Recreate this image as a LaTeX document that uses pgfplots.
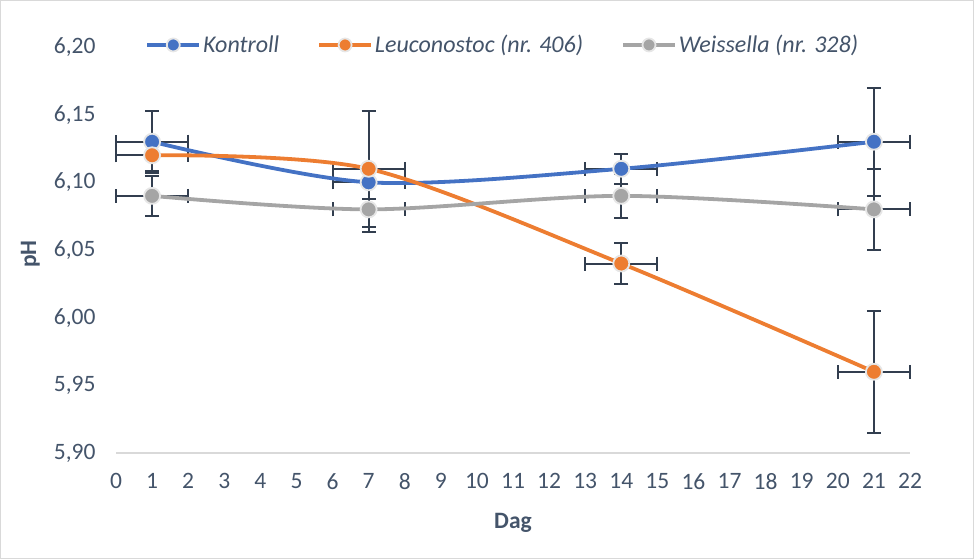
\documentclass[border=0pt]{standalone}
\usepackage{fontspec}
\setmainfont{Carlito}
\usepackage{pgfplots}
\usepackage{pgfplotstable}
\pgfplotsset{compat=1.18}
\definecolor{cblue}{HTML}{4472C4}
\definecolor{corange}{HTML}{ED7D31}
\definecolor{cgray}{HTML}{A5A5A5}
\definecolor{errc}{HTML}{323E4F}
\definecolor{mborder}{HTML}{E6E6E6}
\definecolor{txt}{HTML}{44546A}
\definecolor{axisgray}{HTML}{D9D9D9}
\pgfplotstableread{
x y ex ey
1 6.13 1 0.023
7 6.10 1 0.012
14 6.11 1 0.011
21 6.13 1 0.040
}\kontroll
\pgfplotstableread{
x y ex ey
1 6.12 1 0.012
7 6.11 1 0.043
14 6.04 1 0.015
21 5.96 1 0.045
}\leuco
\pgfplotstableread{
x y ex ey
1 6.09 1 0.015
7 6.08 1 0.017
14 6.09 1 0.016
21 6.08 1 0.030
}\weiss
\pgfplotsset{
  err/.style={draw=none, mark=none, forget plot,
    error bars/.cd, x dir=both, x explicit, y dir=both, y explicit,
    error bar style={draw=errc, line width=2bp},
    error mark options={draw=errc, rotate=90, mark size=7bp, line width=2bp}},
  ser/.style={#1, line width=3.8bp, smooth, mark=*, mark size=8bp,
    mark options={solid, fill=#1, draw=mborder, line width=1.8bp}},
}
\begin{document}
\begin{tikzpicture}[x=1bp,y=1bp]
\path[use as bounding box] (0,0) rectangle (974,559);
\draw[color=axisgray, line width=1bp] (0.5,0.5) rectangle (973.5,558.5);
\begin{axis}[
  at={(116bp,106bp)}, anchor=south west,
  scale only axis, width=794bp, height=406bp,
  xmin=0, xmax=22, ymin=5.9, ymax=6.2,
  xtick={0,1,...,22}, ytick={5.9,5.95,6,6.05,6.1,6.15,6.2},
  axis x line*=bottom, axis y line*=left,
  x axis line style={draw=axisgray, line width=1.3bp, -},
  y axis line style={draw=none},
  major tick length=0,
  clip=false,
  /pgf/number format/assume math mode=true,
  tick label style={font=\fontsize{23.5bp}{28bp}\selectfont, text=txt},
  yticklabel style={/pgf/number format/.cd, fixed, fixed zerofill, precision=2, use comma, /tikz/.cd, xshift=-17bp},
  xticklabel style={yshift=-17bp},
  xlabel={Dag}, ylabel={pH},
  label style={font=\bfseries\fontsize{23.5bp}{28bp}\selectfont, text=txt},
  xlabel style={at={(axis description cs:0.5,-0.172)}, anchor=center},
  ylabel style={at={(axis description cs:-0.108,0.49)}, anchor=center, rotate=0},
  legend columns=3,
  legend style={draw=none, fill=none, at={(axis description cs:0.033,1.005)}, anchor=west,
    font=\itshape\fontsize{24bp}{28bp}\selectfont, text=txt,
    /tikz/every even column/.append style={column sep=36bp}},
  legend image code/.code={\draw[mark repeat=2, mark phase=2, #1, mark size=6.5bp] plot coordinates {(0bp,0bp) (26bp,0bp) (52bp,0bp)};},
]
\addplot[err] table[x=x, y=y, x error=ex, y error=ey] {\kontroll};
\addplot[err] table[x=x, y=y, x error=ex, y error=ey] {\leuco};
\addplot[err] table[x=x, y=y, x error=ex, y error=ey] {\weiss};
\addplot[ser=cblue] table[x=x, y=y] {\kontroll};
\addlegendentry{Kontroll}
\addplot[ser=corange] table[x=x, y=y] {\leuco};
\addlegendentry{Leuconostoc (nr. 406)}
\addplot[ser=cgray] table[x=x, y=y] {\weiss};
\addlegendentry{Weissella (nr. 328)}
\end{axis}
\end{tikzpicture}
\end{document}
